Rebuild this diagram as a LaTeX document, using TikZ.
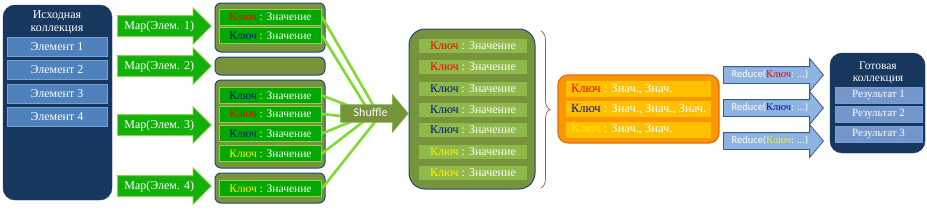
\documentclass[tikz,border=0pt]{standalone}
\usepackage{fontspec}
\setmainfont{Liberation Serif}
\newfontfamily\carlito{Carlito}
\usetikzlibrary{shapes.arrows,decorations.pathreplacing}
\definecolor{navy}{RGB}{23,55,94}
\definecolor{elemblue}{RGB}{79,129,189}
\definecolor{elemborder}{RGB}{120,160,210}
\definecolor{mapgreen}{RGB}{20,176,10}
\definecolor{lightgreen}{RGB}{146,208,80}
\definecolor{olive}{RGB}{119,147,60}
\definecolor{grpborder}{RGB}{31,73,125}
\definecolor{kvgreen}{RGB}{0,168,0}
\definecolor{linkgreen}{RGB}{128,218,50}
\definecolor{kv2}{RGB}{143,186,74}
\definecolor{kkred}{RGB}{255,0,0}
\definecolor{kkblue}{RGB}{0,20,140}
\definecolor{kkyellow}{RGB}{255,240,0}
\definecolor{orfill}{RGB}{250,150,0}
\definecolor{orborder}{RGB}{228,108,10}
\definecolor{orbar}{RGB}{255,192,0}
\definecolor{redfill}{RGB}{141,180,226}
\definecolor{redborder}{RGB}{56,93,138}
\definecolor{resblue}{RGB}{115,150,205}
\definecolor{bracered}{RGB}{192,80,77}
\begin{document}
\begin{tikzpicture}[x=1pt,y=-1pt,
  coll/.style={fill=navy, draw=navy, rounded corners=12pt, inner sep=0pt},
  colltitle/.style={text=white, align=center, font=\fontsize{12}{12.5}\selectfont, inner sep=0pt},
  elem/.style={fill=elemblue, draw=elemborder, line width=0.6pt, minimum width=100pt, minimum height=19pt, inner sep=0pt, text=white, font=\fontsize{12}{14}\selectfont},
  res/.style={fill=resblue, draw=elemborder, line width=0.6pt, minimum width=87pt, minimum height=16pt, inner sep=0pt, text=white, font=\fontsize{11}{13}\selectfont},
  mapar/.style={single arrow, single arrow head extend=8pt, single arrow tip angle=90, minimum height=94pt, inner xsep=2pt, inner ysep=5pt, text height=8pt, text depth=2pt, fill=mapgreen, draw=lightgreen, line width=0.8pt, anchor=west, text=white, font=\fontsize{12}{14}\selectfont},
  grp/.style={fill=olive, draw=grpborder, line width=1pt, rounded corners=6pt, minimum width=110pt, inner sep=0pt},
  kv/.style={fill=kvgreen, draw=lightgreen, line width=1pt, minimum width=102pt, minimum height=16pt, inner sep=0pt, text=white, font=\fontsize{11.5}{13}\selectfont},
  link/.style={draw=linkgreen, line width=2.6pt},
  shuf/.style={single arrow, single arrow head extend=10pt, single arrow tip angle=100, minimum height=68pt, inner xsep=2pt, inner ysep=4pt, text height=7pt, text depth=2pt, fill=olive, draw=lightgreen!60!olive, line width=0.6pt, anchor=west, text=white, font=\carlito\fontsize{12}{14}\selectfont},
  big/.style={fill=olive, draw=grpborder, line width=1pt, rounded corners=16pt, minimum width=126pt, minimum height=160pt, inner sep=0pt},
  kvb/.style={fill=kv2, minimum width=108pt, minimum height=14pt, inner sep=0pt, text=white, font=\fontsize{12}{13}\selectfont},
  orbox/.style={fill=orfill, draw=orborder, line width=1.2pt, rounded corners=10pt, minimum width=161pt, minimum height=68pt, inner sep=0pt},
  orb/.style={fill=orbar, minimum width=145pt, minimum height=16pt, inner xsep=2pt, inner ysep=0pt, text width=141pt, align=flush left, text=white, font=\fontsize{12.5}{13}\selectfont},
  redar/.style={single arrow, single arrow head extend=8pt, single arrow tip angle=100, minimum height=100pt, inner xsep=2pt, inner ysep=4pt, text height=6.5pt, text depth=1.5pt, fill=redfill, draw=redborder, line width=0.8pt, anchor=west, text=white, font=\carlito\fontsize{10.5}{12}\selectfont},
]
\useasboundingbox[fill=white] (0,0) rectangle (927,214);

% source collection
\node[coll, minimum width=109pt, minimum height=195pt] (src) at (57.5,102.5) {};
\node[colltitle] (srct) at (57,22) {Исходная\\коллекция};
\node[elem] (e1) at (57,46.5) {Элемент 1};
\node[elem] (e2) at (57,70) {Элемент 2};
\node[elem] (e3) at (57,93.5) {Элемент 3};
\node[elem] (e4) at (57,116.5) {Элемент 4};

% map arrows
\node[mapar] (m1) at (117,26) {Map(Элем. 1)};
\node[mapar] (m2) at (117,66) {Map(Элем. 2)};
\node[mapar] (m3) at (117,125) {Map(Элем. 3)};
\node[mapar] (m4) at (117,186) {Map(Элем. 4)};

% groups
\node[grp, minimum height=49pt] (g1) at (270,27.5) {};
\node[grp, minimum height=18pt] (g2) at (270,66) {};
\node[grp, minimum height=88pt] (g3) at (270,124) {};
\node[grp, minimum height=30pt] (g4) at (270,188) {};
\node[kv] (k11) at (270.5,17) {\textcolor{kkred}{Ключ} : Значение};
\node[kv] (k12) at (270.5,35.5) {\textcolor{kkblue}{Ключ} : Значение};
\node[kv] (k31) at (270.5,95.5) {\textcolor{kkblue}{Ключ} : Значение};
\node[kv] (k32) at (270.5,114) {\textcolor{kkred}{Ключ} : Значение};
\node[kv] (k33) at (270.5,133.5) {\textcolor{kkblue}{Ключ} : Значение};
\node[kv] (k34) at (270.5,153.5) {\textcolor{kkyellow}{Ключ} : Значение};
\node[kv] (k41) at (270.5,188.5) {\textcolor{kkyellow}{Ключ} : Значение};

% links to shuffle
\coordinate (s11) at (376,110);
\coordinate (s12) at (368,110);
\coordinate (s31) at (360,110);
\coordinate (s32) at (350,117);
\coordinate (s33) at (360,118);
\coordinate (s34) at (368,118);
\coordinate (s41) at (378,118);
\draw[link] (k11.east) -- (s11);
\draw[link] (k12.east) -- (s12);
\draw[link] (k31.east) -- (s31);
\draw[link] (k32.east) -- (s32);
\draw[link] (k33.east) -- (s33);
\draw[link] (k34.east) -- (s34);
\draw[link] (k41.east) -- (s41);

\node[shuf] (shuffle) at (340,113.5) {Shuffle};

% shuffled collection
\node[big] (bigbox) at (472,109) {};
\node[kvb] (b1) at (473,46) {\textcolor{kkred}{Ключ} : Значение};
\node[kvb] (b2) at (473,67) {\textcolor{kkred}{Ключ} : Значение};
\node[kvb] (b3) at (473,89) {\textcolor{kkblue}{Ключ} : Значение};
\node[kvb] (b4) at (473,110) {\textcolor{kkblue}{Ключ} : Значение};
\node[kvb] (b5) at (473,130) {\textcolor{kkblue}{Ключ} : Значение};
\node[kvb] (b6) at (473,151.5) {\textcolor{kkyellow}{Ключ} : Значение};
\node[kvb] (b7) at (473,173) {\textcolor{kkyellow}{Ключ} : Значение};

% brace
\coordinate (bt) at (541,31);
\coordinate (bb) at (541,188);
\draw[bracered, line width=0.7pt, decorate, decoration={brace, amplitude=9pt, aspect=0.5}] (bt) -- (bb);

% grouped
\node[orbox] (obox) at (638.5,109) {};
\node[orb] (o1) at (638.5,89) {\hskip3pt\textcolor{kkred}{Ключ} : Знач., Знач.};
\node[orb] (o2) at (638.5,109) {\hskip3pt\textcolor{kkblue}{Ключ} : Знач., Знач., Знач.};
\node[orb] (o3) at (638.5,129.5) {\hskip3pt\textcolor{kkyellow}{Ключ} : Знач., Знач.};

% reduce arrows
\node[redar] (r1) at (723,75) {Reduce(\textcolor{kkred}{\rmfamily Ключ}: ...)};
\node[redar] (r2) at (723,108) {Reduce(\textcolor{kkblue}{\rmfamily Ключ}: ...)};
\node[redar] (r3) at (723,141) {Reduce(\textcolor{kkyellow}{\rmfamily Ключ}: ...)};

% result collection
\node[coll, rounded corners=12pt, minimum width=95pt, minimum height=100pt] (dst) at (877.5,103) {};
\node[colltitle, font=\fontsize{11.5}{12}\selectfont] (dstt) at (878,73) {Готовая\\коллекция};
\node[res] (rs1) at (878.5,95) {Результат 1};
\node[res] (rs2) at (878.5,114) {Результат 2};
\node[res] (rs3) at (878.5,134) {Результат 3};
\end{tikzpicture}
\end{document}
